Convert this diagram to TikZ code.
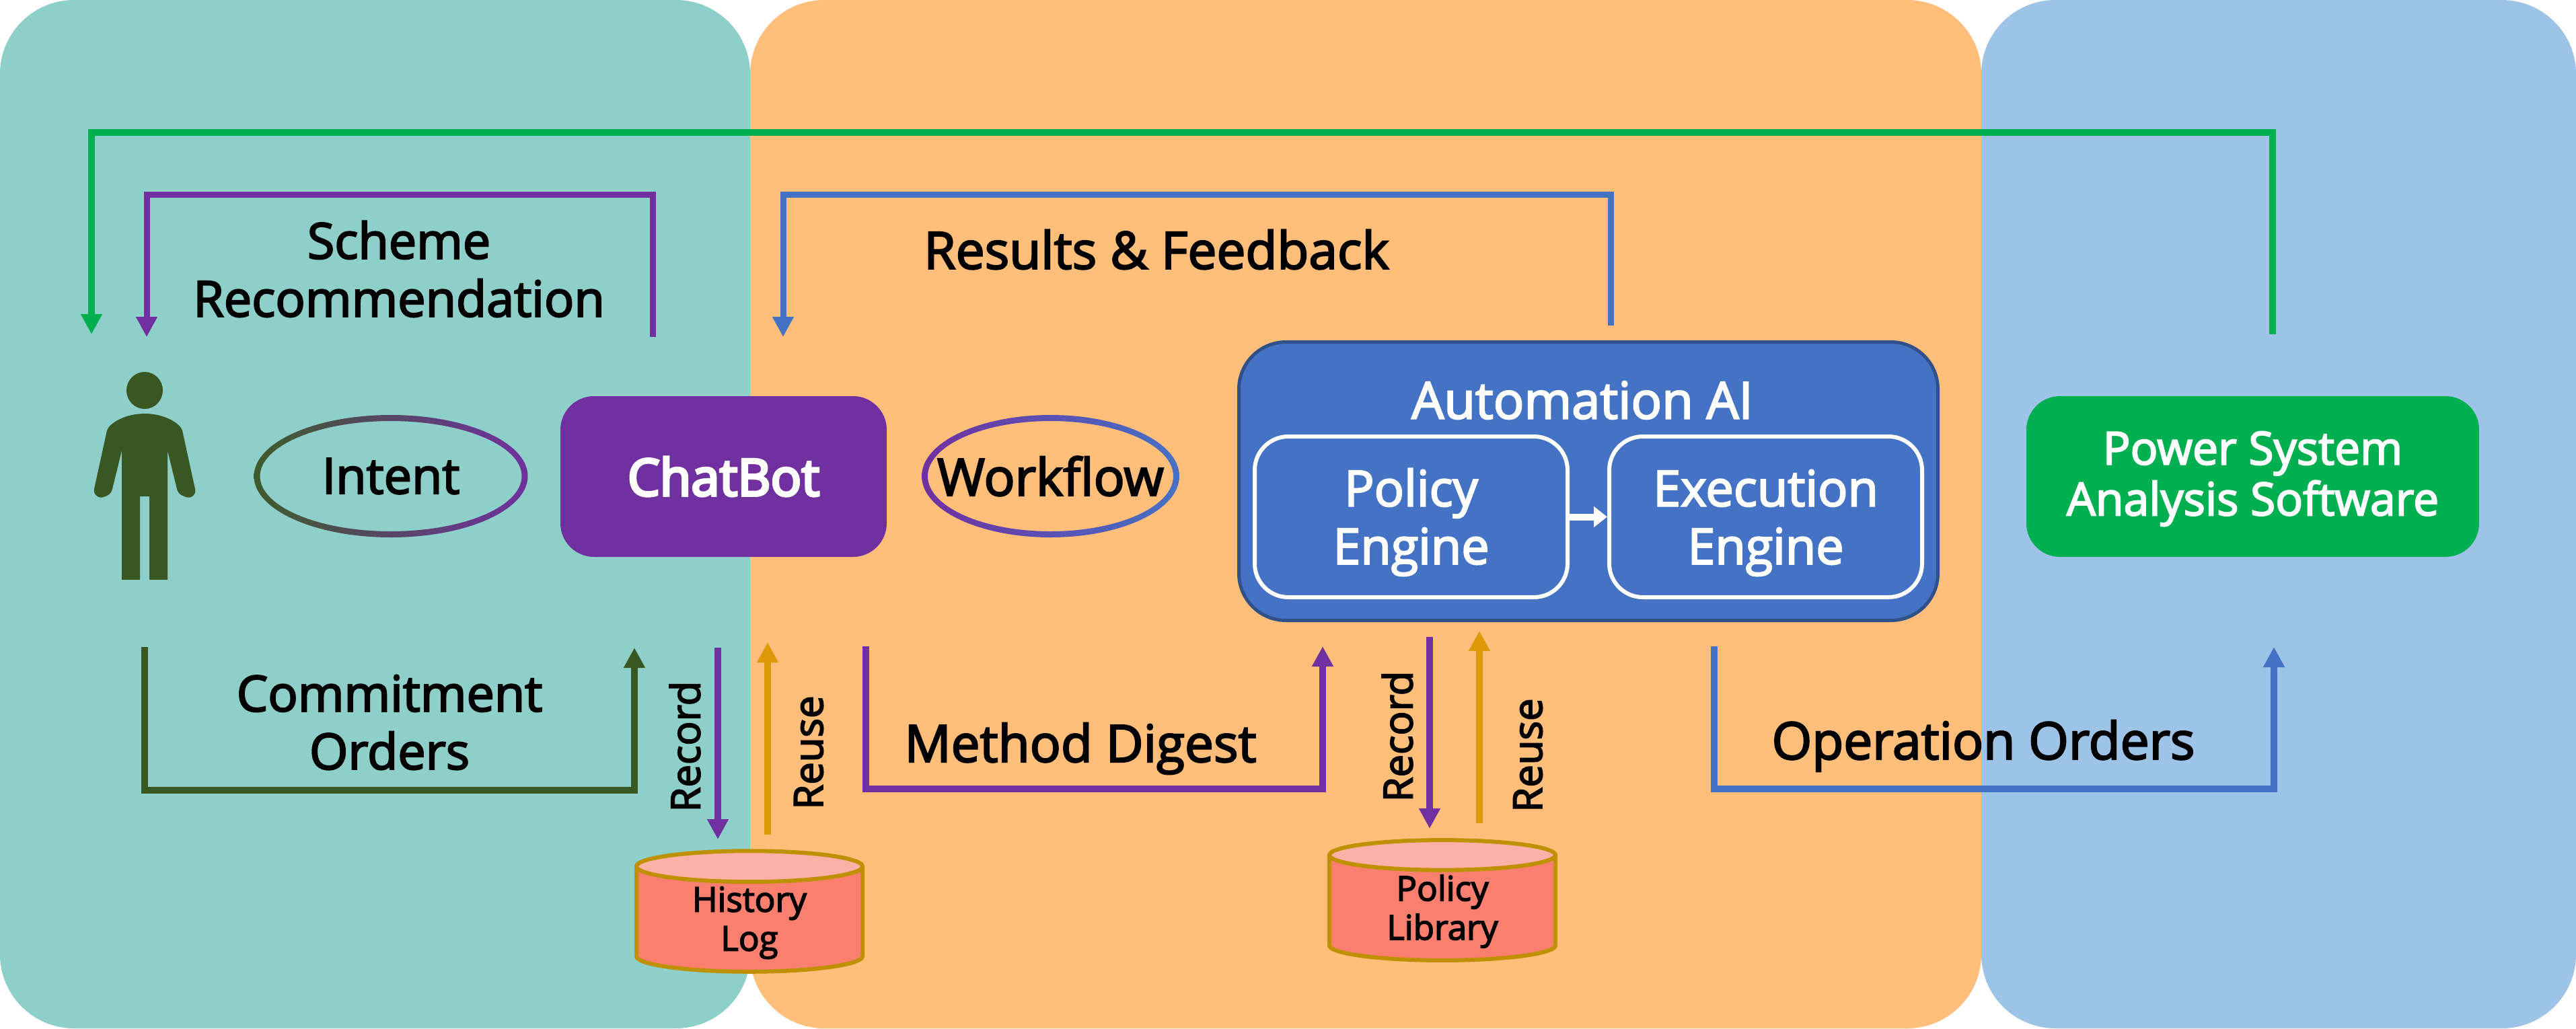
\documentclass[tikz,border=0pt]{standalone}
\usepackage{fontspec}
\setmainfont{Open Sans}[FakeBold=3]
\usetikzlibrary{arrows.meta,shapes.geometric}
\definecolor{tealbg}{HTML}{8ECFC9}
\definecolor{orangebg}{HTML}{FFBE7A}
\definecolor{bluebg}{HTML}{9DC3E6}
\definecolor{pplline}{HTML}{7030A0}
\definecolor{bluline}{HTML}{4472C4}
\definecolor{grnline}{HTML}{00B050}
\definecolor{drkline}{HTML}{385723}
\definecolor{oraline}{HTML}{DE9A06}
\definecolor{storebody}{HTML}{FA7F6F}
\definecolor{storetop}{HTML}{FBB0A8}
\definecolor{storeline}{HTML}{BF9000}
\tikzset{
	panel/.style={rounded corners=1.1cm,inner sep=0,minimum height=15.29cm},
	lab/.style={align=center,font=\fontsize{21}{24.5}\selectfont},
	widelab/.style={font=\fontsize{21.8}{24.5}\selectfont},
	vlab/.style={rotate=90,font=\fontsize{17}{20}\selectfont},
	box/.style={rounded corners=.5cm,text=white,align=center,inner sep=0},
	inbox/.style={box,draw=white,line width=.06cm,minimum width=4.65cm,minimum height=2.39cm,font=\fontsize{21}{24.5}\selectfont},
	conn/.style={line width=.1cm,-{Triangle[length=.3cm,width=.3cm]}},
	storelab/.style={align=center,font=\fontsize{14.5}{16.5}\selectfont},
	store/.style={storelab,cylinder,shape border rotate=90,aspect=.27,anchor=shape center,draw=storeline,line width=.06cm,cylinder uses custom fill,cylinder body fill=storebody,cylinder end fill=storetop,minimum width=3.36cm,minimum height=1.66cm,inner sep=0},
	gradring/.style 2 args={left color=#1,right color=#2,even odd rule}
}
\begin{document}
\begin{tikzpicture}[x=1cm,y=-1cm]
	\useasboundingbox (0,0) rectangle (38.29,15.29);
	% backgrounds
	\node[panel,fill=tealbg,minimum width=11.15cm] (user) at (5.575,7.645) {};
	\node[panel,fill=orangebg,minimum width=18.30cm] (middle) at (20.30,7.645) {};
	\node[panel,fill=bluebg,minimum width=8.84cm] (tool) at (33.87,7.645) {};
	% person
	\fill[drkline] (2.15,5.805) ellipse [x radius=.27,y radius=.275];
	\fill[drkline] (2.15,6.15) .. controls (1.85,6.15) and (1.62,6.30) .. (1.59,6.40)
		-- (1.40,7.27) .. controls (1.38,7.35) and (1.47,7.42) .. (1.54,7.39)
		.. controls (1.60,7.37) and (1.65,7.35) .. (1.67,7.27) -- (1.81,6.70) -- (1.81,8.62) -- (2.08,8.62) -- (2.08,7.38)
		-- (2.22,7.38) -- (2.22,8.62) -- (2.49,8.62) -- (2.49,6.70) -- (2.63,7.27)
		.. controls (2.65,7.35) and (2.70,7.37) .. (2.77,7.39)
		.. controls (2.84,7.42) and (2.92,7.35) .. (2.90,7.27) -- (2.71,6.40)
		.. controls (2.68,6.30) and (2.45,6.15) .. (2.15,6.15) -- cycle;
	% nodes
	\node[lab] (intent) at (5.81,7.08) {Intent};
	\node[lab,widelab] (flow) at (15.615,7.08) {Workflow};
	\shade[gradring={drkline!90!gray}{pplline}] (intent) ellipse [x radius=2.035,y radius=.91] (intent) ellipse [x radius=1.945,y radius=.82];
	\shade[gradring={pplline}{bluline}] (flow) ellipse [x radius=1.915,y radius=.91] (flow) ellipse [x radius=1.825,y radius=.82];
	\node[box,fill=pplline,minimum width=4.85cm,minimum height=2.39cm,font=\fontsize{21.6}{24.5}\selectfont\addfontfeature{FakeBold=5}] (chat) at (10.755,7.085) {ChatBot};
	\node[box,fill=grnline,minimum width=6.73cm,minimum height=2.39cm,font=\fontsize{19.3}{21.5}\selectfont] (soft) at (33.485,7.085) {\rule{0pt}{16pt}Power System\\Analysis Software};
	\node[box,fill=bluline,draw=bluline!70!black,line width=.05cm,rounded corners=.7cm,minimum width=10.39cm,minimum height=4.14cm] (auto) at (23.61,7.155) {};
	\node[text=white,font=\fontsize{21.6}{24.5}\selectfont] (autotxt) at (23.52,5.95) {Automation AI};
	\node[inbox] (policy) at (20.975,7.685) {\rule{0pt}{20.5pt}Policy\\Engine};
	\node[inbox] (exec) at (26.245,7.685) {\rule{0pt}{20.5pt}Execution\\Engine};
	\draw[white,line width=.1cm,-{Triangle[length=.2cm,width=.3cm]}] (policy) -- (exec);
	\node[store] (hist) at (11.14,13.55) {\phantom{History}\\\phantom{Log}};
	\node[store] (lib) at (21.44,13.385) {\phantom{Policy}\\\phantom{Library}};
	\node[storelab] (histtxt) at (11.14,13.72) {History\\Log};
	\node[storelab] (libtxt) at (21.44,13.55) {Policy\\Library};
	% free ends of the connectors
	\path (33.78,4.97) coordinate (G1) (1.36,1.97) coordinate (G2) (1.36,4.97) coordinate (G3)
		(9.70,5.01) coordinate (S1) (2.18,2.89) coordinate (S2) (2.18,5.01) coordinate (S3)
		(23.94,4.84) coordinate (R1) (11.64,2.89) coordinate (R2) (11.64,5.01) coordinate (R3)
		(2.15,9.62) coordinate (C1) (9.43,11.75) coordinate (C2) (9.43,9.63) coordinate (C3)
		(12.87,9.61) coordinate (M1) (19.66,11.73) coordinate (M2) (19.66,9.61) coordinate (M3)
		(25.48,9.61) coordinate (O1) (33.80,11.73) coordinate (O2) (33.80,9.62) coordinate (O3)
		(10.67,9.63) coordinate (H1) (10.67,12.48) coordinate (H2)
		(11.41,12.41) coordinate (H3) (11.41,9.55) coordinate (H4)
		(21.25,9.47) coordinate (L1) (21.25,12.32) coordinate (L2)
		(21.99,12.24) coordinate (L3) (21.99,9.38) coordinate (L4);
	% connectors
	\draw[conn,grnline] (G1) |- (G2) -- (G3);
	\draw[conn,pplline,line width=.09cm] (S1) |- (S2) -- (S3);
	\draw[conn,bluline,line width=.09cm] (R1) |- (R2) -- (R3);
	\draw[conn,drkline] (C1) |- (C2) -- (C3);
	\draw[conn,pplline] (M1) |- (M2) -- (M3);
	\draw[conn,bluline] (O1) |- (O2) -- (O3);
	\draw[conn,pplline] (H1) -- (H2);
	\draw[conn,oraline] (H3) -- (H4);
	\draw[conn,pplline] (L1) -- (L2);
	\draw[conn,oraline] (L3) -- (L4);
	% labels
	\node[lab] (scheme) at (5.93,4.00) {Scheme\\Recommendation};
	\node[lab,widelab] (results) at (17.19,3.71) {Results \& Feedback};
	\node[lab] (commit) at (5.79,10.74) {Commitment\\Orders};
	\node[lab,widelab] (digest) at (16.06,11.13) {Method Digest};
	\node[lab,widelab] (orders) at (29.48,11.09) {Operation Orders};
	\node[vlab] (rec1) at (10.18,11.10) {Record};
	\node[vlab] (use1) at (12.02,11.19) {Reuse};
	\node[vlab] (rec2) at (20.77,10.95) {Record};
	\node[vlab] (use2) at (22.71,11.23) {Reuse};
\end{tikzpicture}
\end{document}
